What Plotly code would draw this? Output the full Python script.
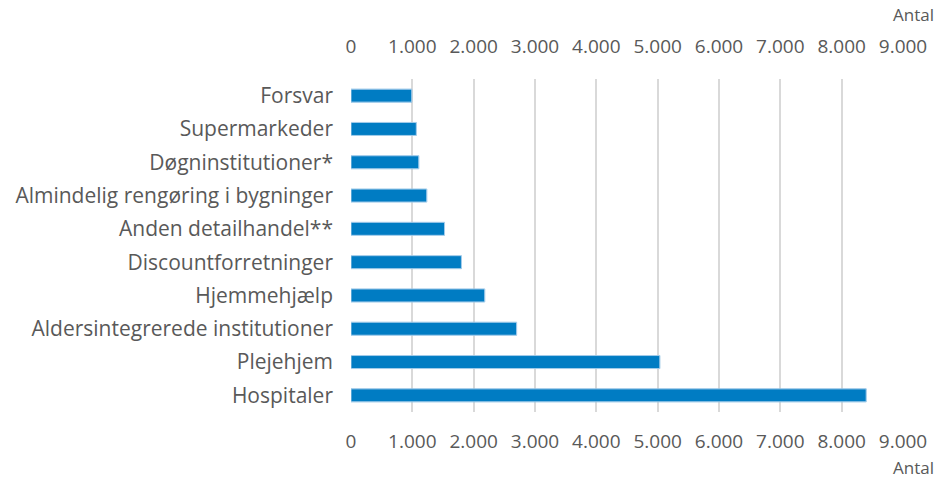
import plotly.graph_objects as go

categories = [
    "Forsvar",
    "Supermarkeder",
    "Døgninstitutioner*",
    "Almindelig rengøring i bygninger",
    "Anden detailhandel**",
    "Discountforretninger",
    "Hjemmehjælp",
    "Aldersintegrerede institutioner",
    "Plejehjem",
    "Hospitaler",
]
values = [990, 1065, 1105, 1235, 1525, 1800, 2180, 2700, 5035, 8400]
tick_values = [0, 1000, 2000, 3000, 4000, 5000, 6000, 7000, 8000, 9000]
axis_title = "Antal"

W, H = 938, 479
L, R, T, B = 351, 35, 79, 67
pw, ph = W - L - R, H - T - B

FONT = "Open Sans"
GREY = "#595959"

fig = go.Figure()
fig.add_trace(go.Bar(
    x=values, y=categories, orientation="h",
    marker=dict(color="#007CC3", line=dict(color="#5aa7dc", width=0.8)),
    width=0.39, xaxis="x", yaxis="y", hoverinfo="x+y",
))
fig.add_trace(go.Bar(
    x=values, y=categories, orientation="h",
    marker=dict(color="rgba(0,0,0,0)"), width=0.39,
    xaxis="x2", yaxis="y", hoverinfo="skip", showlegend=False,
))

axis_common = dict(
    range=[0, 9000], tickvals=tick_values, tickformat=",d",
    showgrid=True, gridcolor="#d9d9d9", gridwidth=2,
    zeroline=False, showline=False, ticks="",
    tickfont=dict(family=FONT, size=19, color=GREY),
)

fig.update_layout(
    width=W, height=H,
    margin=dict(l=L, r=R, t=T, b=B),
    paper_bgcolor="white", plot_bgcolor="white",
    separators=",.",
    showlegend=False,
    barmode="overlay",
    xaxis=dict(side="bottom", ticklabelstandoff=16, **axis_common),
    xaxis2=dict(side="top", overlaying="x", ticklabelstandoff=21, **axis_common),
    yaxis=dict(
        categoryorder="array", categoryarray=categories, autorange="reversed",
        showgrid=False, zeroline=False, showline=False, ticks="",
        ticklabelstandoff=17,
        tickfont=dict(family=FONT, size=21, color=GREY),
    ),
    annotations=[
        dict(text=axis_title, xref="paper", yref="paper",
             x=(W - L - 2) / pw, y=(H - B - 15) / ph, xanchor="right", yanchor="middle",
             showarrow=False, font=dict(family=FONT, size=17, color=GREY)),
        dict(text=axis_title, xref="paper", yref="paper",
             x=(W - L - 2) / pw, y=(H - B - 467) / ph, xanchor="right", yanchor="middle",
             showarrow=False, font=dict(family=FONT, size=17, color=GREY)),
    ],
)

fig.write_html("out.html", config={"displayModeBar": False},
               post_script="document.body.style.margin='0';")
